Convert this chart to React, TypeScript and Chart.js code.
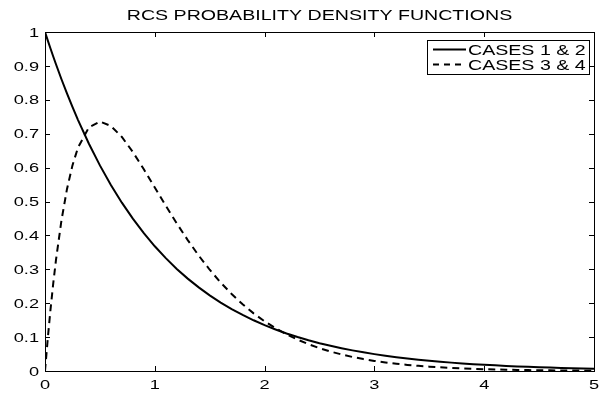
import { useEffect, useRef } from "react";
import { Chart, registerables } from "chart.js";

Chart.register(...registerables);

// ---- data ----
const titleText = "RCS PROBABILITY DENSITY FUNCTIONS";
const seriesNames = ["CASES 1 & 2", "CASES 3 & 4"];

const xValues = [
  0, 0.025, 0.05, 0.075, 0.1, 0.15, 0.2, 0.25, 0.3, 0.4, 0.5, 0.6, 0.7, 0.8, 0.9,
  1.0, 1.1, 1.2, 1.3, 1.4, 1.5, 1.6, 1.7, 1.8, 1.9, 2.0, 2.1, 2.2, 2.3, 2.4,
  2.5, 2.6, 2.7, 2.8, 2.9, 3.0, 3.1, 3.2, 3.3, 3.4, 3.5, 3.6, 3.7, 3.8, 3.9,
  4.0, 4.1, 4.2, 4.3, 4.4, 4.5, 4.6, 4.7, 4.8, 4.9, 5.0,
];

const cases12 = [
  1.0, 0.9753, 0.9512, 0.9277, 0.9048, 0.8607, 0.8187, 0.7788, 0.7408, 0.6703,
  0.6065, 0.5488, 0.4966, 0.4493, 0.4066, 0.3679, 0.3329, 0.3012, 0.2725, 0.2466,
  0.2231, 0.2019, 0.1827, 0.1653, 0.1496, 0.1353, 0.1225, 0.1108, 0.1003, 0.0907,
  0.0821, 0.0743, 0.0672, 0.0608, 0.055, 0.0498, 0.045, 0.0408, 0.0369, 0.0334,
  0.0302, 0.0273, 0.0247, 0.0224, 0.0202, 0.0183, 0.0166, 0.015, 0.0136, 0.0123,
  0.0111, 0.0101, 0.0091, 0.0082, 0.0074, 0.0067,
];

const cases34 = [
  0, 0.0951, 0.181, 0.2582, 0.3275, 0.4445, 0.5363, 0.6065, 0.6586, 0.7189,
  0.7358, 0.7229, 0.6905, 0.646, 0.5951, 0.5413, 0.4875, 0.4355, 0.3862, 0.3405,
  0.2987, 0.2609, 0.227, 0.1967, 0.17, 0.1465, 0.126, 0.108, 0.0926, 0.079,
  0.0674, 0.0574, 0.0488, 0.0414, 0.0351, 0.0297, 0.0252, 0.0213, 0.018, 0.0152,
  0.0128, 0.0108, 0.009, 0.0076, 0.0064, 0.0054, 0.0045, 0.0038, 0.0032, 0.0027,
  0.0022, 0.0019, 0.0016, 0.0013, 0.0011, 0.0009,
];

const xTicks = [0, 1, 2, 3, 4, 5];
const xTickLabels = ["0", "1", "2", "3", "4", "5"];
const yTicks = [0, 0.1, 0.2, 0.3, 0.4, 0.5, 0.6, 0.7, 0.8, 0.9, 1];
const yTickLabels = ["0", "0.1", "0.2", "0.3", "0.4", "0.5", "0.6", "0.7", "0.8", "0.9", "1"];

// ---- drawing helpers ----
const FONT = '"Liberation Sans", Arial, Helvetica, sans-serif';
const STRETCH = 1.4;
const TICK_LEN = 5;

function stretchedText(
  ctx: CanvasRenderingContext2D,
  text: string,
  x: number,
  y: number,
  align: CanvasTextAlign,
  size: number
) {
  ctx.save();
  ctx.font = `${size}px ${FONT}`;
  ctx.fillStyle = "#000";
  ctx.textAlign = align;
  ctx.textBaseline = "alphabetic";
  ctx.translate(x, y);
  ctx.scale(STRETCH, 1);
  ctx.fillText(text, 0, 0);
  ctx.restore();
}

const framePlugin = {
  id: "matlabFrame",
  afterDraw(chart: any) {
    const ctx: CanvasRenderingContext2D = chart.ctx;
    const { left, right, top, bottom } = chart.chartArea;
    const xs = chart.scales.x;
    const ys = chart.scales.y;

    ctx.save();
    ctx.strokeStyle = "#000";
    ctx.lineWidth = 1;
    ctx.setLineDash([]);

    // axes box
    ctx.strokeRect(Math.round(left) + 0.5, Math.round(top) + 0.5, Math.round(right - left), Math.round(bottom - top));

    // inward tick marks on all four sides
    ctx.beginPath();
    xTicks.forEach((v) => {
      const px = Math.round(xs.getPixelForValue(v)) + 0.5;
      ctx.moveTo(px, bottom);
      ctx.lineTo(px, bottom - TICK_LEN);
      ctx.moveTo(px, top);
      ctx.lineTo(px, top + TICK_LEN);
    });
    yTicks.forEach((v) => {
      const py = Math.round(ys.getPixelForValue(v)) + 0.5;
      ctx.moveTo(left, py);
      ctx.lineTo(left + TICK_LEN, py);
      ctx.moveTo(right, py);
      ctx.lineTo(right - TICK_LEN, py);
    });
    ctx.stroke();
    ctx.restore();

    // tick labels
    xTicks.forEach((v, i) => {
      stretchedText(ctx, xTickLabels[i], xs.getPixelForValue(v), bottom + 18, "center", 13);
    });
    yTicks.forEach((v, i) => {
      stretchedText(ctx, yTickLabels[i], left - 6, ys.getPixelForValue(v) + 4.6, "right", 13);
    });

    // title
    stretchedText(ctx, titleText, (left + right) / 2, 20, "center", 14);

    // legend
    const lgRight = right - 5;
    const lgLeft = lgRight - 162;
    const lgTop = top + 8;
    const lgHeight = 34;
    ctx.save();
    ctx.fillStyle = "#fff";
    ctx.fillRect(lgLeft, lgTop, lgRight - lgLeft, lgHeight);
    ctx.strokeStyle = "#000";
    ctx.lineWidth = 1;
    ctx.strokeRect(Math.round(lgLeft) + 0.5, Math.round(lgTop) + 0.5, Math.round(lgRight - lgLeft), lgHeight);
    const rows = [lgTop + 9.5, lgTop + 24.5];
    const dashes = [[], [6, 5]];
    rows.forEach((ry, i) => {
      ctx.beginPath();
      ctx.lineWidth = 2;
      ctx.setLineDash(dashes[i]);
      ctx.moveTo(lgLeft + 6, ry);
      ctx.lineTo(lgLeft + 39, ry);
      ctx.stroke();
    });
    ctx.restore();
    rows.forEach((ry, i) => {
      stretchedText(ctx, seriesNames[i], lgLeft + 41, ry + 5, "left", 14);
    });
  },
};

export default function App() {
  const canvasRef = useRef<HTMLCanvasElement | null>(null);

  useEffect(() => {
    document.body.style.margin = "0";
    const canvas = canvasRef.current;
    if (!canvas) return;

    const chart = new Chart(canvas, {
      type: "line",
      data: {
        datasets: [
          {
            label: seriesNames[0],
            data: xValues.map((x, i) => ({ x, y: cases12[i] })),
            borderColor: "#000",
            borderWidth: 2,
            pointRadius: 0,
            tension: 0,
            fill: false,
          },
          {
            label: seriesNames[1],
            data: xValues.map((x, i) => ({ x, y: cases34[i] })),
            borderColor: "#000",
            borderWidth: 2,
            borderDash: [7, 5],
            pointRadius: 0,
            tension: 0,
            fill: false,
          },
        ],
      },
      options: {
        responsive: false,
        animation: false,
        devicePixelRatio: 1,
        layout: { padding: { left: 45, top: 32, right: 11, bottom: 23 } },
        scales: {
          x: { type: "linear", min: 0, max: 5, display: false },
          y: { type: "linear", min: 0, max: 1, display: false },
        },
        plugins: {
          legend: { display: false },
          title: { display: false },
          tooltip: { enabled: false },
        },
      },
      plugins: [framePlugin],
    });

    return () => chart.destroy();
  }, []);

  return (
    <div style={{ width: 605, height: 394, background: "#fff" }}>
      <canvas ref={canvasRef} width={605} height={394} />
    </div>
  );
}
